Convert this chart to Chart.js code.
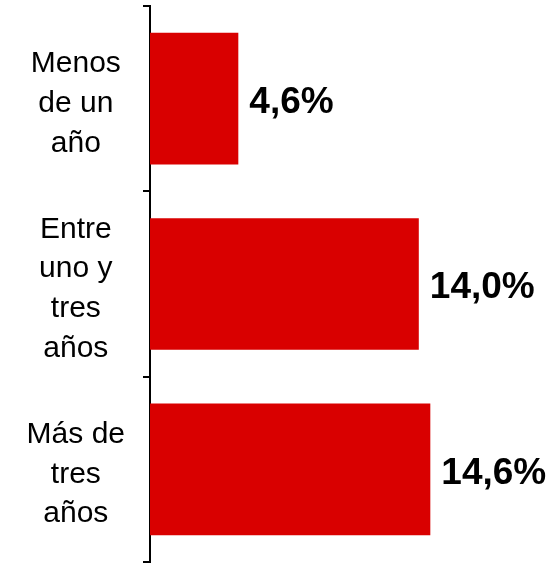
<!DOCTYPE html>
<html>
<head>
<meta charset="utf-8">
<script src="https://cdn.jsdelivr.net/npm/chart.js@4/dist/chart.umd.min.js"></script>
<style>
  html, body { margin: 0; padding: 0; background: #fff; }
  #wrap { width: 555px; height: 564px; }
</style>
</head>
<body>
<div id="wrap"><canvas id="chart"></canvas></div>
<script>
const categories = [
    ['Menos', 'de un', 'año'],
    ['Entre', 'uno y', 'tres', 'años'],
    ['Más de', 'tres', 'años']
];
const values = [4.6, 14.0, 14.6];
const valueLabels = ['4,6%', '14,0%', '14,6%'];

// draws the percentage just right of each bar
const valueLabelPlugin = {
    id: 'valueLabels',
    afterDatasetsDraw(chart) {
        const ctx = chart.ctx;
        const meta = chart.getDatasetMeta(0);
        ctx.save();
        ctx.font = 'bold 37px "Liberation Sans", Arial, sans-serif';
        ctx.fillStyle = '#000';
        ctx.textAlign = 'left';
        ctx.textBaseline = 'middle';
        meta.data.forEach((bar, i) => {
            ctx.fillText(valueLabels[i], bar.x + 11, bar.y + 4);
        });
        ctx.restore();
    }
};

const ctx = document.getElementById('chart').getContext('2d');
new Chart(ctx, {
    type: 'bar',
    data: {
        labels: categories,
        datasets: [{
            data: values,
            backgroundColor: '#d90000',
            borderWidth: 0,
            categoryPercentage: 1,
            barPercentage: 0.71
        }]
    },
    options: {
        indexAxis: 'y',
        responsive: true,
        maintainAspectRatio: false,
        animation: false,
        layout: { padding: { top: 6, bottom: 2, left: 0, right: 21 } },
        plugins: {
            legend: { display: false },
            tooltip: { enabled: false }
        },
        scales: {
            x: {
                display: false,
                min: 0,
                max: 20
            },
            y: {
                afterFit(scale) {
                    scale.width = 150;
                    scale.paddingTop = 0;
                    scale.paddingBottom = 0;
                },
                border: { display: true, color: '#000', width: 2 },
                grid: {
                    offset: true,
                    drawOnChartArea: false,
                    drawTicks: true,
                    tickLength: 7,
                    color: '#000',
                    lineWidth: 2
                },
                ticks: {
                    crossAlign: 'center',
                    padding: 18,
                    labelOffset: 5,
                    color: '#000',
                    font: { family: '"Liberation Sans", Arial, sans-serif', size: 30, lineHeight: 1.32 }
                }
            }
        }
    },
    plugins: [valueLabelPlugin]
});
</script>
</body>
</html>
